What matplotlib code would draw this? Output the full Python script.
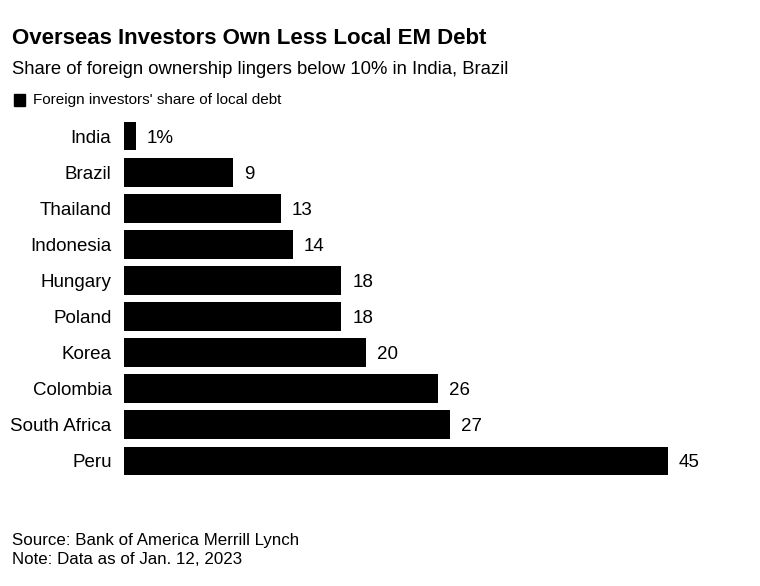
import matplotlib
matplotlib.use('Agg')
import matplotlib.pyplot as plt
from matplotlib.patches import Rectangle

countries = ["India", "Brazil", "Thailand", "Indonesia", "Hungary", "Poland",
             "Korea", "Colombia", "South Africa", "Peru"]
shares = [1, 9, 13, 14, 18, 18, 20, 26, 27, 45]
value_labels = ["1%", "9", "13", "14", "18", "18", "20", "26", "27", "45"]

title = "Overseas Investors Own Less Local EM Debt"
subtitle = "Share of foreign ownership lingers below 10% in India, Brazil"
legend_label = "Foreign investors' share of local debt"
source = "Source: Bank of America Merrill Lynch"
note = "Note: Data as of Jan. 12, 2023"

plt.rcParams['font.family'] = ['Liberation Sans', 'DejaVu Sans']

W, H = 760, 586
fig = plt.figure(figsize=(W / 100, H / 100), dpi=100)

# axes placed in pixel terms
left, right = 124, 740
top, bottom = 118, 479
ax = fig.add_axes([left / W, 1 - bottom / H, (right - left) / W, (bottom - top) / H])

y = list(range(len(countries)))
ax.barh(y, shares, height=0.8, color='black')
ax.set_xlim(0, 51)
ax.set_ylim(len(countries) - 0.5, -0.5)
ax.set_yticks(y)
ax.set_yticklabels(countries, fontsize=13.5)
ax.tick_params(axis='y', length=0, pad=9)
ax.set_xticks([])
for s in ax.spines.values():
    s.set_visible(False)

for yi, v, lab in zip(y, shares, value_labels):
    ax.annotate(lab, (v, yi), xytext=(11, 0), textcoords='offset pixels',
                va='center_baseline', ha='left', fontsize=13.5)

fig.text(12 / W, 1 - 38 / H, title, fontsize=16, fontweight='bold', va='center', ha='left')
fig.text(12 / W, 1 - 70 / H, subtitle, fontsize=13.3, va='center', ha='left')
fig.patches.append(Rectangle((14 / W, 1 - 106 / H), 11 / W, 12 / H,
                             transform=fig.transFigure, color='black'))
fig.text(33 / W, 1 - 100 / H, legend_label, fontsize=11, va='center', ha='left')
fig.text(12 / W, 1 - 541 / H, source, fontsize=12.2, va='center', ha='left')
fig.text(12 / W, 1 - 560 / H, note, fontsize=12.2, va='center', ha='left')

fig.savefig('out.png', dpi=100)
